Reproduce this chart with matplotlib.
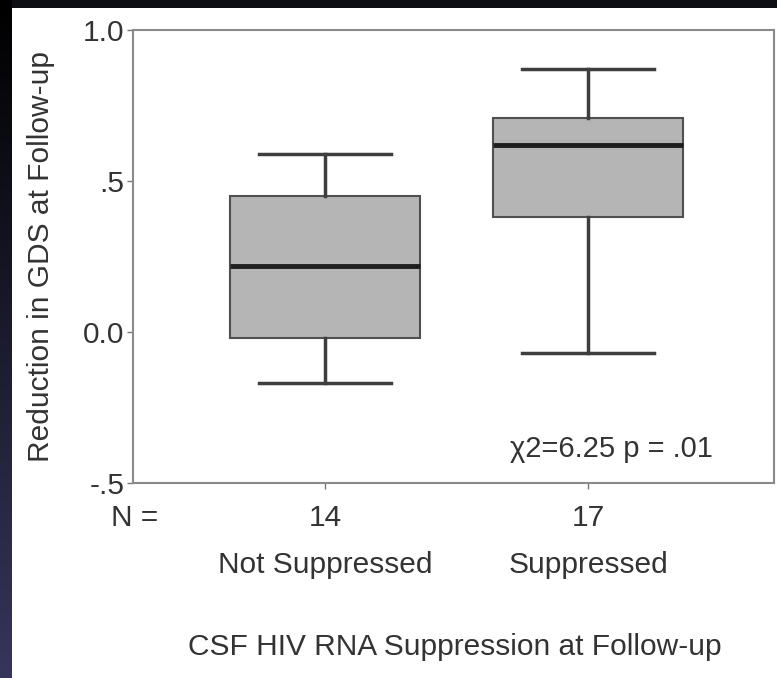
import numpy as np
import matplotlib
matplotlib.use("Agg")
from matplotlib import pyplot as plt
from matplotlib.transforms import blended_transform_factory

plt.rcParams['font.family'] = ['Liberation Sans', 'DejaVu Sans']

# values
groups = ["Not Suppressed", "Suppressed"]
n_counts = [14, 17]
whislo = [-0.17, -0.07]
q1 = [-0.02, 0.38]
med = [0.22, 0.62]
q3 = [0.45, 0.71]
whishi = [0.59, 0.87]
yticks = [-0.5, 0.0, 0.5, 1.0]
ytick_labels = ["-.5", "0.0", ".5", "1.0"]

txt = '#333333'

fig = plt.figure(figsize=(7.77, 6.78), dpi=100)
fig.patch.set_facecolor('#0d0d14')

# white slide panel with a dark frame on top and left
panel = fig.add_axes([12/777, 0, 1 - 12/777, 1 - 8/678])
panel.set_facecolor('white')
panel.set_xticks([])
panel.set_yticks([])
for s in panel.spines.values():
    s.set_visible(False)

# dark gradient strip on the left
strip = fig.add_axes([0, 0, 12/777, 1])
grad = np.linspace(0, 1, 256).reshape(-1, 1)
strip.imshow(grad, aspect='auto', cmap=matplotlib.colors.LinearSegmentedColormap.from_list(
    'g', ['#000000', '#35365a']), extent=[0, 1, 0, 1], origin='upper')
strip.axis('off')

ax = fig.add_axes([133/777, 1 - 483/678, (774 - 133)/777, (483 - 30)/678])
ax.set_facecolor('none')

stats = []
for i in range(len(groups)):
    stats.append({'whislo': whislo[i], 'q1': q1[i], 'med': med[i],
                  'q3': q3[i], 'whishi': whishi[i], 'fliers': [],
                  'label': groups[i]})

ax.bxp(stats, positions=[1, 2], widths=0.72, patch_artist=True,
       showfliers=False,
       boxprops=dict(facecolor='#b5b5b5', edgecolor='#505050', linewidth=1.5),
       medianprops=dict(color='#1e1e1e', linewidth=3.5),
       whiskerprops=dict(color='#3e3e3e', linewidth=2.5),
       capprops=dict(color='#3e3e3e', linewidth=2.5),
       capwidths=0.5)

ax.set_xlim(0.27, 2.707)
ax.set_ylim(-0.5, 1.0)
ax.set_yticks(yticks)
ax.set_yticklabels(ytick_labels)
ax.set_xticks([1, 2])
ax.set_xticklabels([])
ax.tick_params(axis='y', length=4, width=1, color='#777777', labelsize=21.5,
               labelcolor=txt, pad=2)
ax.tick_params(axis='x', length=4, width=1, color='#777777')
for s in ax.spines.values():
    s.set_color('#8a8a8a')
    s.set_linewidth(1.5)

ax.set_ylabel('Reduction in GDS at Follow-up', fontsize=21.5, color=txt,
              labelpad=20)

tr = blended_transform_factory(ax.transData, fig.transFigure)
for i in range(len(groups)):
    ax.text(i + 1, 1 - 518/678, str(n_counts[i]), transform=tr, ha='center',
            va='center', fontsize=21.5, color=txt)
    ax.text(i + 1, 1 - 565/678, groups[i], transform=tr, ha='center',
            va='center', fontsize=21.5, color=txt)
fig.text(135/777, 1 - 518/678, 'N =', ha='center', va='center',
         fontsize=21.5, color=txt)

fig.text(455/777, 1 - 647/678, 'CSF HIV RNA Suppression at Follow-up',
         ha='center', va='center', fontsize=21.5, color=txt)

ax.text(0.905, 0.075, 'χ2=6.25 p = .01', transform=ax.transAxes, ha='right',
        va='center', fontsize=21, color=txt)

fig.savefig('out.png', dpi=100)
